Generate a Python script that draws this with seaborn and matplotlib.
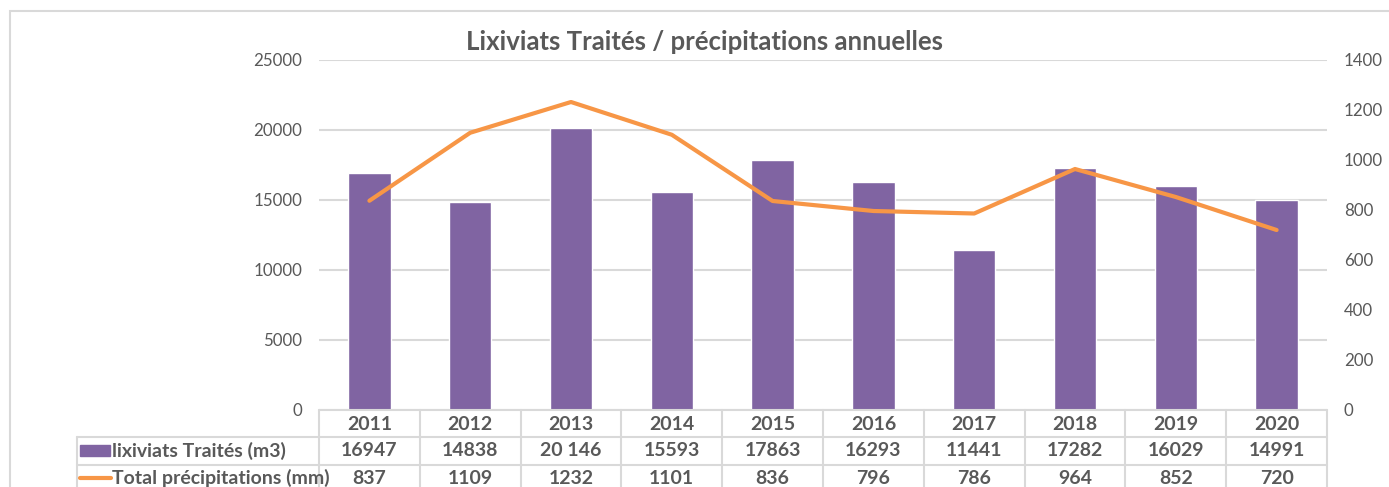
import numpy as np
import seaborn as sns
import matplotlib.pyplot as plt
from matplotlib.lines import Line2D
from matplotlib.patches import Rectangle
from matplotlib.transforms import blended_transform_factory

years = ['2011', '2012', '2013', '2014', '2015', '2016', '2017', '2018', '2019', '2020']
leachate = [16947, 14838, 20146, 15593, 17863, 16293, 11441, 17282, 16029, 14991]
leachate_text = ['16947', '14838', '20 146', '15593', '17863', '16293', '11441', '17282', '16029', '14991']
precip = [837, 1109, 1232, 1101, 836, 796, 786, 964, 852, 720]

row_labels = ['lixiviats Traités (m3)', 'Total précipitations (mm)']
title = 'Lixiviats Traités / précipitations annuelles'

BAR_COLOR = '#8064A2'
LINE_COLOR = '#F79646'
TEXT_COLOR = '#595959'
GRID_COLOR = '#D9D9D9'
TABLE_FS = 14

W, H = 1389, 487


def fx(px):
    return px / W


def fy(py):
    return 1 - py / H


sns.set_style('white')
plt.rcParams['font.family'] = ['Lato', 'DejaVu Sans']

fig = plt.figure(figsize=(W / 100, H / 100), dpi=100)

# chart border (only top / left visible in the screenshot)
fig.add_artist(Rectangle((fx(10), fy(500)), fx(1400), fy(11) - fy(500),
                         transform=fig.transFigure, fill=False,
                         edgecolor=GRID_COLOR, linewidth=1.5))

# plot area in pixels: x 319..1327, y 60..410
ax = fig.add_axes([fx(319), fy(410), fx(1327 - 319), (350) / H])

sns.barplot(x=years, y=leachate, ax=ax, color=BAR_COLOR, saturation=1, width=0.42)
ax.set_xlim(-0.5, len(years) - 0.5)
ax.set_ylim(0, 25000)
ax.set_yticks(np.arange(0, 25001, 5000))
ax.yaxis.grid(True, color=GRID_COLOR, linewidth=1.5)
ax.set_axisbelow(True)
ax.set_xticks([])
ax.set_xlabel('')
ax.set_ylabel('')
ax.tick_params(axis='y', length=0, pad=12, labelsize=12.2, labelcolor=TEXT_COLOR)
for side in ['top', 'right', 'left', 'bottom']:
    ax.spines[side].set_visible(False)

# secondary axis for precipitations
ax2 = ax.twinx()
sns.lineplot(x=np.arange(len(years)), y=precip, ax=ax2, color=LINE_COLOR, linewidth=3)
ax2.set_ylim(0, 1400)
ax2.set_yticks(np.arange(0, 1401, 200))
ax2.tick_params(axis='y', length=0, pad=12, labelsize=12.2, labelcolor=TEXT_COLOR)
for side in ['top', 'right', 'left', 'bottom']:
    ax2.spines[side].set_visible(False)

fig.text(fx(705), fy(42), title, ha='center', va='center', fontsize=18.5,
         fontweight='bold', color=TEXT_COLOR)

# data table below the plot
trans = blended_transform_factory(ax.transData, fig.transFigure)
n = len(years)
row_y = [410, 437, 465, 493]


def hline(x0, x1, py, transform):
    fig.add_artist(Line2D([x0, x1], [fy(py), fy(py)], transform=transform,
                          color=GRID_COLOR, linewidth=1.5, clip_on=False))


def vline(x, py0, py1, transform):
    fig.add_artist(Line2D([x, x], [fy(py0), fy(py1)], transform=transform,
                          color=GRID_COLOR, linewidth=1.5, clip_on=False))


hline(-0.5, n - 0.5, row_y[0], trans)
for py in row_y[1:3]:
    hline(-0.5, n - 0.5, py, trans)
    hline(fx(77), fx(319), py, fig.transFigure)
for i in range(n + 1):
    vline(i - 0.5, row_y[0], H + 5, trans)
vline(fx(77), row_y[1], H + 5, fig.transFigure)

for i, yr in enumerate(years):
    fig.text(i, fy(424), yr, transform=trans, ha='center', va='center',
             fontsize=TABLE_FS, fontweight='bold', color=TEXT_COLOR)
    fig.text(i, fy(451), leachate_text[i], transform=trans, ha='center', va='center',
             fontsize=TABLE_FS, fontweight='bold', color=TEXT_COLOR)
    fig.text(i, fy(478), str(precip[i]), transform=trans, ha='center', va='center',
             fontsize=TABLE_FS, fontweight='bold', color=TEXT_COLOR)

# legend keys in the row headers
fig.add_artist(Rectangle((fx(80), fy(456)), fx(30), fy(445) - fy(456),
                         transform=fig.transFigure, color=BAR_COLOR))
fig.add_artist(Line2D([fx(80), fx(111)], [fy(478), fy(478)], transform=fig.transFigure,
                      color=LINE_COLOR, linewidth=3))
fig.text(fx(112), fy(451), row_labels[0], ha='left', va='center', fontsize=TABLE_FS,
         fontweight='bold', color=TEXT_COLOR)
fig.text(fx(112), fy(478), row_labels[1], ha='left', va='center', fontsize=TABLE_FS,
         fontweight='bold', color=TEXT_COLOR)

fig.savefig('out.png', dpi=100)
